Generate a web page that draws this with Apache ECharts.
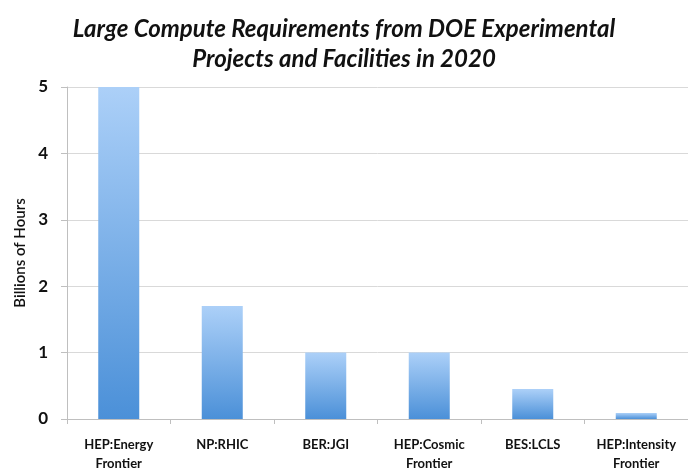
<!DOCTYPE html>
<html>
<head>
<meta charset="utf-8">
<script src="https://cdn.jsdelivr.net/npm/echarts@6/dist/echarts.min.js"></script>
<style>
  html, body { margin: 0; padding: 0; background: #fff; }
  #chart { width: 688px; height: 473px; }
</style>
</head>
<body>
<div id="chart"></div>
<script>
  // data
  var categories = ['HEP:Energy\nFrontier', 'NP:RHIC', 'BER:JGI', 'HEP:Cosmic\nFrontier', 'BES:LCLS', 'HEP:Intensity\nFrontier']
  var hours = [5, 1.7, 1.0, 1.0, 0.45, 0.09]
  var yTicks = [0, 1, 2, 3, 4, 5]

  var chart = echarts.init(document.getElementById('chart'))
  var font = 'Lato, "Open Sans", sans-serif'

  chart.setOption({
    backgroundColor: '#fff',
    title: {
      text: 'Large Compute Requirements from DOE Experimental\nProjects and Facilities in 2020',
      left: 'center',
      top: 9,
      textStyle: {
        fontFamily: font,
        fontSize: 24,
        fontWeight: 'bold',
        fontStyle: 'italic',
        color: '#111',
        lineHeight: 30
      }
    },
    grid: {
      left: 67,
      top: 87,
      width: 628,
      height: 338
    },
    xAxis: {
      type: 'category',
      data: categories,
      axisLine: { lineStyle: { color: '#bfbfbf' } },
      axisTick: { show: true, alignWithLabel: false, length: 5, lineStyle: { color: '#bfbfbf' } },
      axisLabel: {
        interval: 0,
        color: '#111',
        fontFamily: font,
        fontSize: 13,
        fontWeight: 'bold',
        lineHeight: 19,
        margin: 16
      }
    },
    yAxis: {
      type: 'value',
      min: yTicks[0],
      max: yTicks[yTicks.length - 1],
      interval: 1,
      name: 'Billions of Hours',
      nameLocation: 'middle',
      nameGap: 38,
      nameTextStyle: {
        fontFamily: font,
        fontSize: 15,
        fontWeight: 600,
        color: '#111'
      },
      axisLine: { show: true, lineStyle: { color: '#bfbfbf' } },
      axisTick: { show: true, length: 6, lineStyle: { color: '#bfbfbf' } },
      axisLabel: {
        color: '#111',
        fontFamily: font,
        fontSize: 17,
        fontWeight: 'bold',
        margin: 19
      },
      splitLine: { show: true, lineStyle: { color: '#d9d9d9' } }
    },
    series: [
      {
        type: 'bar',
        data: hours,
        barWidth: 41,
        itemStyle: {
          color: new echarts.graphic.LinearGradient(0, 0, 0, 1, [
            { offset: 0, color: '#acd0f8' },
            { offset: 1, color: '#4b90d8' }
          ])
        }
      }
    ]
  })
</script>
</body>
</html>
